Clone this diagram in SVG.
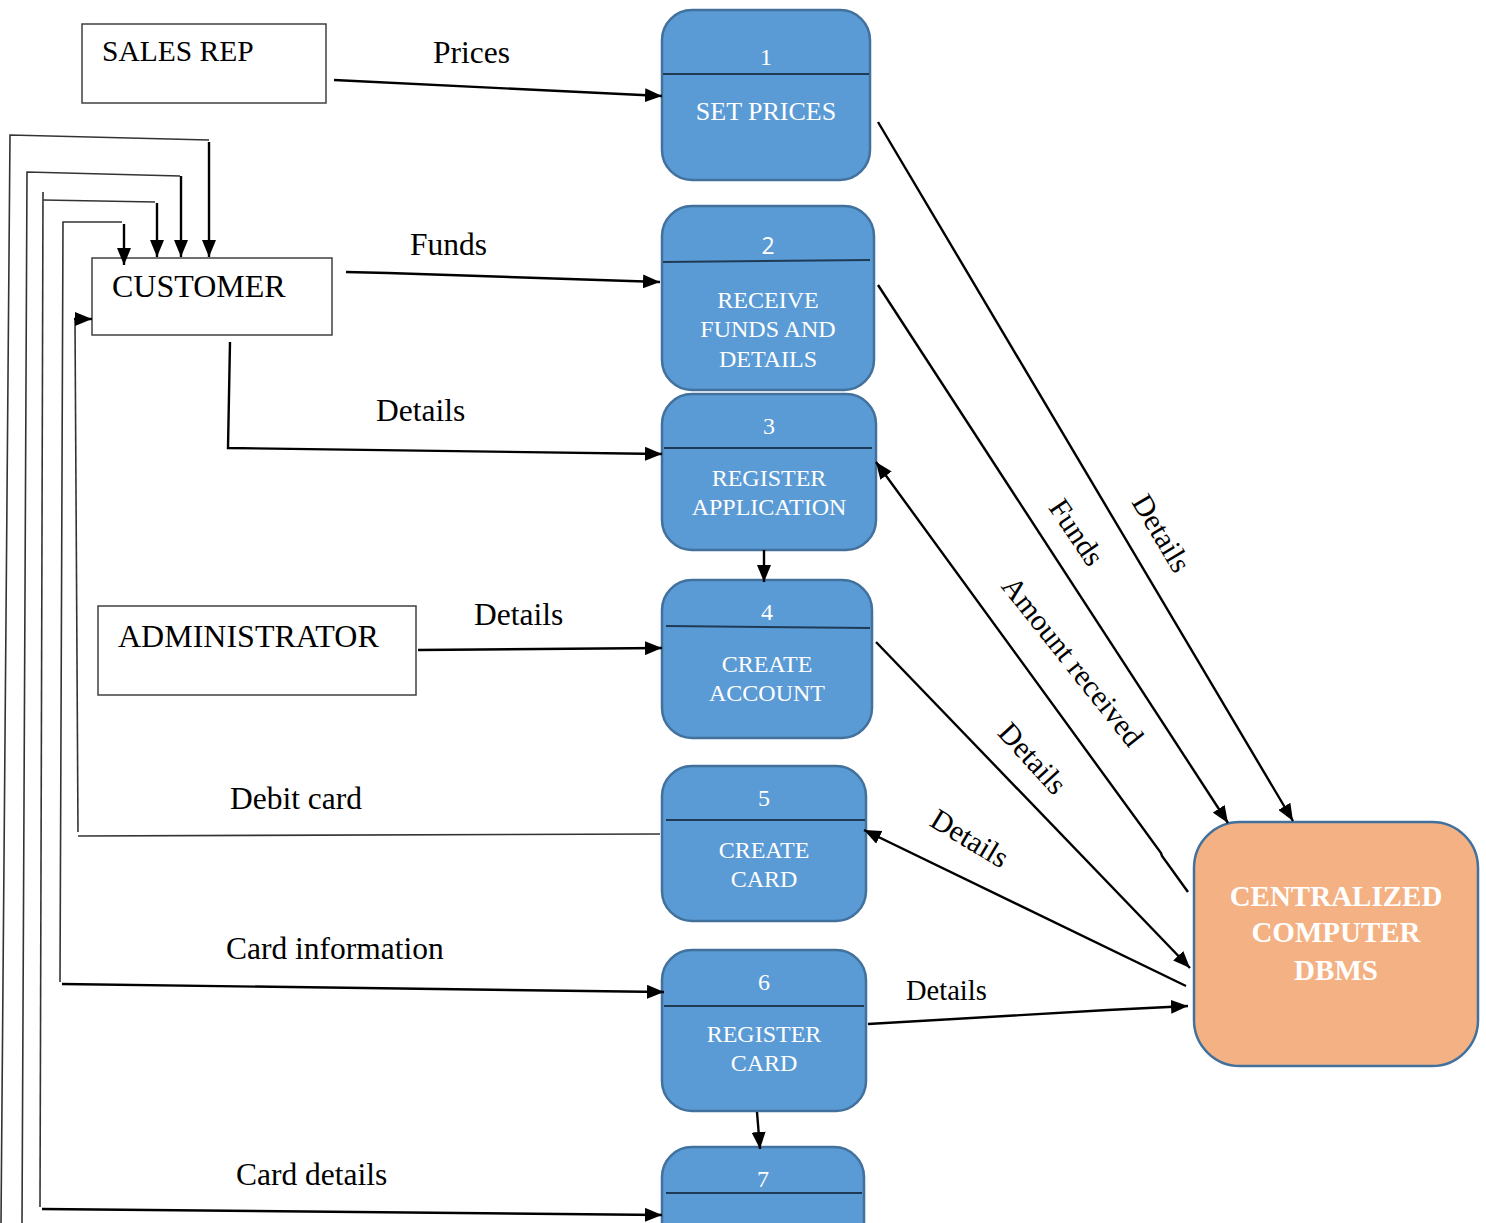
<svg xmlns="http://www.w3.org/2000/svg" width="1486" height="1223" viewBox="0 0 1486 1223">
  <defs>
    <marker id="arrow" markerUnits="userSpaceOnUse" markerWidth="17" markerHeight="14" refX="17" refY="7" orient="auto">
      <path d="M0,0 L17,7 L0,14 z" fill="#000"/>
    </marker>
    <style>
      .ext { fill: #fff; stroke: #404040; stroke-width: 1.5; }
      .ext-text { font-family: "Liberation Serif", "Times New Roman", serif; font-size: 30px; fill: #000; }
      .proc { fill: #5B9BD5; stroke: #41719C; stroke-width: 2.5; }
      .div { stroke: #1F3A55; stroke-width: 2; }
      .ptxt { font-family: "Liberation Serif", "Times New Roman", serif; font-size: 24px; fill: #fff; text-anchor: middle; }
      .store { fill: #F4B183; stroke: #41719C; stroke-width: 2.5; }
      .stxt { font-family: "Liberation Serif", "Times New Roman", serif; font-size: 29px; font-weight: bold; fill: #fff; text-anchor: middle; }
      .flow { fill: none; stroke: #000; stroke-width: 2.4; }
      .route { fill: none; stroke: #333; stroke-width: 1.6; }
      .lbl { font-family: "Liberation Serif", "Times New Roman", serif; font-size: 31.5px; fill: #000; }
      .rlbl { font-family: "Liberation Serif", "Times New Roman", serif; font-size: 30px; fill: #000; text-anchor: middle; dominant-baseline: central; }
    </style>
  </defs>

  <!-- external entities -->
  <g id="sales-rep">
    <rect class="ext" x="82" y="24" width="244" height="79"/>
    <text class="ext-text" x="102" y="61" style="font-size:29.5px">SALES REP</text>
  </g>
  <g id="customer">
    <rect class="ext" x="92" y="258" width="240" height="77"/>
    <text class="ext-text" x="112" y="297" style="font-size:32px">CUSTOMER</text>
  </g>
  <g id="administrator">
    <rect class="ext" x="98" y="606" width="318" height="89"/>
    <text class="ext-text" x="118" y="647" style="font-size:32px">ADMINISTRATOR</text>
  </g>

  <!-- processes -->
  <g id="p1">
    <rect class="proc" x="662" y="10" width="208" height="170" rx="30"/>
    <line class="div" x1="663" y1="74" x2="869" y2="74"/>
    <text class="ptxt" x="766" y="65">1</text>
    <text class="ptxt" x="766" y="120" style="font-size:26px">SET PRICES</text>
  </g>
  <g id="p2">
    <rect class="proc" x="662" y="206" width="212" height="184" rx="30"/>
    <line class="div" x1="663" y1="262" x2="870" y2="260"/>
    <text class="ptxt" x="768" y="254" style="font-family:'Open Sans','Liberation Sans',sans-serif;font-size:23px">2</text>
    <text class="ptxt" x="768" y="308">RECEIVE</text>
    <text class="ptxt" x="768" y="337">FUNDS AND</text>
    <text class="ptxt" x="768" y="367">DETAILS</text>
  </g>
  <g id="p3">
    <rect class="proc" x="662" y="394" width="214" height="156" rx="30"/>
    <line class="div" x1="664" y1="448" x2="872" y2="448"/>
    <text class="ptxt" x="769" y="434">3</text>
    <text class="ptxt" x="769" y="486">REGISTER</text>
    <text class="ptxt" x="769" y="515">APPLICATION</text>
  </g>
  <g id="p4">
    <rect class="proc" x="662" y="580" width="210" height="158" rx="30"/>
    <line class="div" x1="666" y1="626" x2="870" y2="628"/>
    <text class="ptxt" x="767" y="620">4</text>
    <text class="ptxt" x="767" y="672">CREATE</text>
    <text class="ptxt" x="767" y="701">ACCOUNT</text>
  </g>
  <g id="p5">
    <rect class="proc" x="662" y="766" width="204" height="155" rx="30"/>
    <line class="div" x1="666" y1="820" x2="865" y2="820"/>
    <text class="ptxt" x="764" y="806">5</text>
    <text class="ptxt" x="764" y="858">CREATE</text>
    <text class="ptxt" x="764" y="887">CARD</text>
  </g>
  <g id="p6">
    <rect class="proc" x="662" y="950" width="204" height="161" rx="30"/>
    <line class="div" x1="664" y1="1006" x2="864" y2="1006"/>
    <text class="ptxt" x="764" y="990">6</text>
    <text class="ptxt" x="764" y="1042">REGISTER</text>
    <text class="ptxt" x="764" y="1071">CARD</text>
  </g>
  <g id="p7">
    <rect class="proc" x="662" y="1147" width="202" height="120" rx="30"/>
    <line class="div" x1="666" y1="1193" x2="862" y2="1193"/>
    <text class="ptxt" x="763" y="1187">7</text>
  </g>

  <!-- data store -->
  <g id="dbms">
    <rect class="store" x="1194" y="822" width="284" height="244" rx="46"/>
    <text class="stxt" x="1336" y="906">CENTRALIZED</text>
    <text class="stxt" x="1336" y="942">COMPUTER</text>
    <text class="stxt" x="1336" y="980">DBMS</text>
  </g>

  <!-- data flows -->
  <g id="connectors">
    <!-- entities to processes -->
    <line class="flow" x1="334" y1="80" x2="662" y2="96" marker-end="url(#arrow)"/>
    <polyline class="flow" points="346,272 388,273 660,282" marker-end="url(#arrow)"/>
    <polyline class="flow" points="230,342 228,448 662,454" marker-end="url(#arrow)"/>
    <line class="flow" x1="418" y1="650" x2="662" y2="648" marker-end="url(#arrow)"/>

    <!-- process chain -->
    <line class="flow" x1="764" y1="550" x2="764" y2="582" marker-end="url(#arrow)"/>
    <line class="flow" x1="757" y1="1112" x2="760" y2="1149" marker-end="url(#arrow)"/>

    <!-- processes and data store -->
    <line class="flow" x1="878" y1="122" x2="1293" y2="821" marker-end="url(#arrow)"/>
    <line class="flow" x1="878" y1="285" x2="1228" y2="823" marker-end="url(#arrow)"/>
    <polyline class="flow" points="1188,892 1162,856 1161,853 876,462" marker-end="url(#arrow)"/>
    <line class="flow" x1="876" y1="642" x2="1190" y2="968" marker-end="url(#arrow)"/>
    <line class="flow" x1="1186" y1="986" x2="864" y2="830" marker-end="url(#arrow)"/>
    <polyline class="flow" points="868,1024 1108,1010 1188,1006" marker-end="url(#arrow)"/>

    <!-- flows returning to the customer -->
    <polyline class="route" points="1,1223 10,135 209,140"/>
    <line class="flow" x1="209" y1="142" x2="209" y2="257" marker-end="url(#arrow)"/>
    <polyline class="route" points="22,1223 27,172 180,176"/>
    <line class="flow" x1="181" y1="176" x2="181" y2="257" marker-end="url(#arrow)"/>
    <polyline class="route" points="40,1207 43,192"/>
    <polyline class="route" points="43,200 155,202"/>
    <line class="flow" x1="157" y1="203" x2="157" y2="257" marker-end="url(#arrow)"/>
    <polyline class="route" points="60,982 63,222 122,222"/>
    <line class="flow" x1="124" y1="224" x2="124" y2="265" marker-end="url(#arrow)"/>
    <polyline class="route" points="78,832 75,320"/>
    <line class="flow" x1="74" y1="319" x2="92" y2="319" marker-end="url(#arrow)"/>
    <line class="route" x1="78" y1="836" x2="660" y2="834"/>
    <line class="flow" x1="62" y1="984" x2="664" y2="992" marker-end="url(#arrow)"/>
    <line class="flow" x1="42" y1="1209" x2="662" y2="1215" marker-end="url(#arrow)"/>
  </g>

  <!-- flow labels -->
  <g id="labels">
    <text class="lbl" x="433" y="63">Prices</text>
    <text class="lbl" x="410" y="255">Funds</text>
    <text class="lbl" x="376" y="421">Details</text>
    <text class="lbl" x="474" y="625">Details</text>
    <text class="lbl" x="230" y="809">Debit card</text>
    <text class="lbl" x="226" y="959">Card information</text>
    <text class="lbl" x="236" y="1185">Card details</text>
    <text class="lbl" x="906" y="1000" style="font-size:28.5px">Details</text>
    <text class="rlbl" transform="translate(1162,533) rotate(59)">Details</text>
    <text class="rlbl" transform="translate(1077,532) rotate(56)">Funds</text>
    <text class="rlbl" transform="translate(1073,661) rotate(51.5)">Amount received</text>
    <text class="rlbl" transform="translate(1033,758) rotate(47.5)">Details</text>
    <text class="rlbl" transform="translate(970,838) rotate(31)">Details</text>
  </g>
</svg>
